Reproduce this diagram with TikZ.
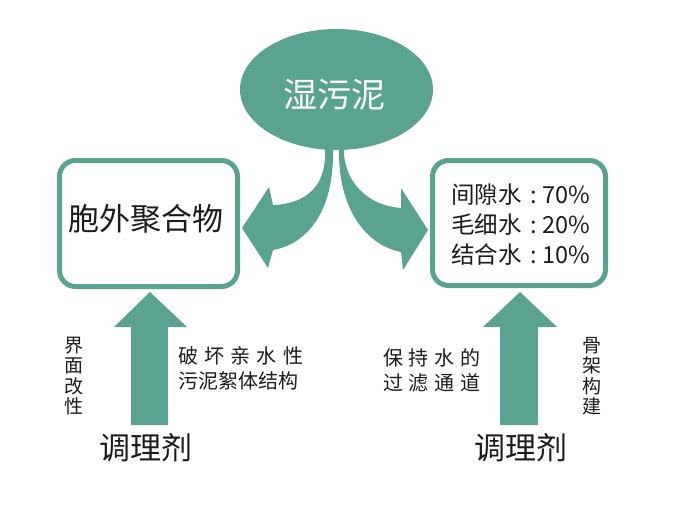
\documentclass[tikz,border=0pt]{standalone}
\usepackage{fontspec}
\usetikzlibrary{shapes.geometric}
\setmainfont{Noto Sans CJK SC}
\definecolor{tealg}{RGB}{91,163,145}
\definecolor{ink}{RGB}{28,28,28}
\newcommand{\cln}{\makebox[21pt]{\hspace{3pt}:}}
\begin{document}
\begin{tikzpicture}[x=1pt,y=-1pt,
  box/.style={draw=tealg,line width=5pt,rounded corners=16pt,fill=white},
  txt/.style={text=ink,inner sep=0pt},
  big/.style={txt,font=\fontsize{31}{31}\selectfont},
  small/.style={txt,font=\fontsize{20}{24.5}\selectfont,align=left},
  vert/.style={txt,font=\fontsize{19}{20.5}\selectfont,align=center}]
\useasboundingbox[fill=white] (0,0) rectangle (700,517);
% ellipse
\node[ellipse,fill=tealg,minimum width=193pt,minimum height=121pt,inner sep=0pt,
  draw=none] (sludge) at (336.5,89.5) {};
\node[txt,text=white,font=\fontsize{34}{34}\selectfont] (sludgetxt) at (334,95) {湿污泥};
% boxes
\draw[box] (59.5,160.5) rectangle (237.5,286.5);
\node[big] (eps) at (146,219) {胞外聚合物};
\draw[box] (432.5,160.5) rectangle (605.5,285.5);
\node[txt,font=\fontsize{23.5}{30}\selectfont,align=left] (water) at (521,225)
  {间隙水\cln 70\%\\毛细水\cln 20\%\\结合水\cln 10\%};
% curved arrows
\fill[tealg] (325,140) -- (325,155) .. controls (325,185) and (307,204) .. (273,205)
  -- (269,187) -- (242,228) -- (268,268) -- (273,250)
  .. controls (307,244) and (334,212) .. (333,150) -- (333,140) -- cycle;
\fill[tealg] (344,140) -- (344,155) .. controls (347,185) and (370,206) .. (401,208)
  -- (401,188) -- (428,230) -- (403,270) -- (401,252)
  .. controls (370,246) and (340,215) .. (339,155) -- (339,140) -- cycle;
% up arrows
\fill[tealg] (131,425) -- (131,327) -- (114,327) -- (150,292) -- (187,327)
  -- (168,327) -- (168,425) -- cycle;
\fill[tealg] (500,425) -- (500,327) -- (483,327) -- (520,292) -- (557,327)
  -- (538,327) -- (538,425) -- cycle;
% labels
\node[big] (condL) at (146,448) {调理剂};
\node[big] (condR) at (521,448) {调理剂};
\node[vert] (ifmod) at (74,376) {界\\面\\改\\性};
\node[vert] (skel) at (592,376) {骨\\架\\构\\建};
\node[small] (destroy) at (240.5,368.5)
  {\hbox to 125pt{破\hfil 坏\hfil 亲\hfil 水\hfil 性}\\污泥絮体结构};
\node[small] (keep) at (431.5,370.5)
  {\hbox to 97pt{保\hfil 持\hfil 水\hfil 的}\\\hbox to 97pt{过\hfil 滤\hfil 通\hfil 道}};
\end{tikzpicture}
\end{document}
